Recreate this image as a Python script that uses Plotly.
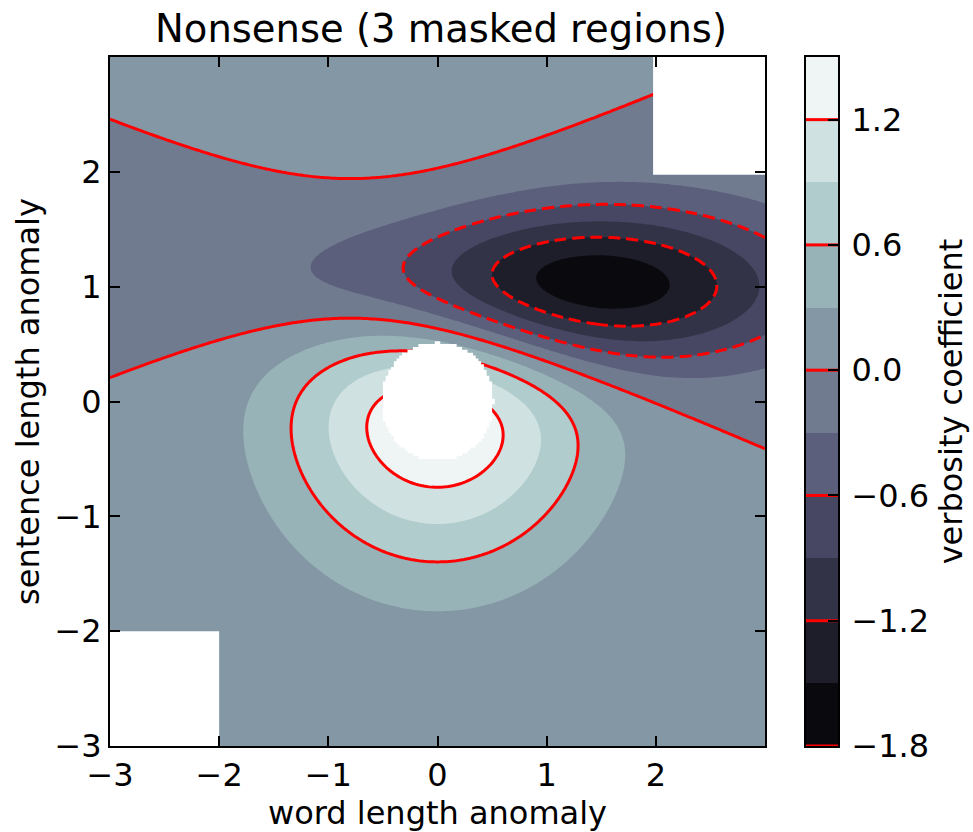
import numpy as np
import plotly.graph_objects as go

# ---------------- data ----------------
grid_start = -3.0
grid_stop = 3.01
grid_step = 0.025

# two Gaussian bumps: a positive one at the origin and a negative one at (1, 1)
bump_amplitude = [10.0, -10.0]
bump_center_x = [0.0, 1.0]
bump_center_y = [0.0, 1.0]
bump_sigma_x = [1.0, 1.5]
bump_sigma_y = [1.0, 0.5]

fill_levels = [-1.8, -1.5, -1.2, -0.9, -0.6, -0.3, 0.0, 0.3, 0.6, 0.9, 1.2, 1.5]
line_levels = [-1.8, -1.2, -0.6, 0.0, 0.6, 1.2]
line_tick_text = ["\u22121.8", "\u22121.2", "\u22120.6", "0.0", "0.6", "1.2"]

axis_ticks = [-3, -2, -1, 0, 1, 2]
axis_tick_text = ["\u22123", "\u22122", "\u22121", "0", "1", "2"]

mask_corner_fraction = 6      # each masked corner covers 1/6 of the grid per side
mask_circle_radius = 0.5

title_text = "Nonsense (3 masked regions)"
x_label = "word length anomaly"
y_label = "sentence length anomaly"
cbar_label = "verbosity coefficient"

# ---------------- field ----------------
x = np.arange(grid_start, grid_stop, grid_step)
y = np.arange(grid_start, grid_stop, grid_step)
X, Y = np.meshgrid(x, y)
Z = np.zeros_like(X)
for a, cx, cy, sx, sy in zip(bump_amplitude, bump_center_x, bump_center_y,
                             bump_sigma_x, bump_sigma_y):
    Z += a * np.exp(-((X - cx) ** 2 / (2 * sx ** 2) + (Y - cy) ** 2 / (2 * sy ** 2))) / (2 * np.pi * sx * sy)

nr, nc = Z.shape
regions = []
m1 = np.zeros_like(Z, dtype=bool)
m1[-nr // mask_corner_fraction:, -nc // mask_corner_fraction:] = True
regions.append(m1)
m2 = np.zeros_like(Z, dtype=bool)
m2[:nr // mask_corner_fraction, :nc // mask_corner_fraction] = True
regions.append(m2)
regions.append(np.sqrt(X ** 2 + Y ** 2) < mask_circle_radius)


def region_polygon(m):
    # quads touching a masked point are left blank (staircase outline)
    q = m[:-1, :-1] | m[1:, :-1] | m[:-1, 1:] | m[1:, 1:]
    rows = []
    for i in range(q.shape[0]):
        js = np.nonzero(q[i])[0]
        if len(js):
            rows.append((y[i], y[i + 1], x[js[0]], x[js[-1] + 1]))
    px, py = [], []
    for yb, yt, xl, xr in rows:
        px += [xr, xr]
        py += [yb, yt]
    for yb, yt, xl, xr in reversed(rows):
        px += [xl, xl]
        py += [yt, yb]
    px.append(px[0])
    py.append(py[0])
    return px, py


# ---------------- bone colormap ----------------
def bone(t):
    r = np.interp(t, [0, 0.746032, 1], [0, 0.652778, 1])
    g = np.interp(t, [0, 0.365079, 0.746032, 1], [0, 0.319444, 0.777778, 1])
    b = np.interp(t, [0, 0.365079, 1], [0, 0.444444, 1])
    return "rgb(%d,%d,%d)" % (round(r * 255), round(g * 255), round(b * 255))

lv = np.array(fill_levels)
mids = (lv[:-1] + lv[1:]) / 2
nb = len(mids)
band_colors = [bone((m - lv[0]) / (lv[-1] - lv[0])) for m in mids]
band_scale = [[i / (nb - 1), c] for i, c in enumerate(band_colors)]
step = fill_levels[1] - fill_levels[0]

fig = go.Figure()

fig.add_trace(go.Contour(
    x=x, y=y, z=Z,
    autocontour=False,
    contours=dict(start=fill_levels[1], end=fill_levels[-2], size=step,
                  coloring="fill", showlines=False),
    colorscale=band_scale, showscale=False, line=dict(width=0, smoothing=0),
    hoverinfo="skip", xaxis="x", yaxis="y",
))

neg = [l for l in line_levels if l < 0]
pos = [l for l in line_levels if l >= 0]
lstep = line_levels[1] - line_levels[0]
fig.add_trace(go.Contour(
    x=x, y=y, z=Z, autocontour=False,
    contours=dict(start=neg[0], end=neg[-1], size=lstep, coloring="none"),
    line=dict(color="red", width=3, dash="12px,6px", smoothing=0),
    showscale=False, hoverinfo="skip",
))
fig.add_trace(go.Contour(
    x=x, y=y, z=Z, autocontour=False,
    contours=dict(start=pos[0], end=pos[-1], size=lstep, coloring="none"),
    line=dict(color="red", width=3, smoothing=0),
    showscale=False, hoverinfo="skip",
))

# masked regions shown blank
for m in regions:
    px, py = region_polygon(m)
    fig.add_trace(go.Scatter(
        x=px, y=py, mode="lines", fill="toself", fillcolor="white",
        line=dict(width=0, color="white"), hoverinfo="skip", showlegend=False,
    ))

# colorbar
fig.add_trace(go.Heatmap(
    x=[0, 1], y=fill_levels, z=[[m] for m in mids],
    zmin=mids[0], zmax=mids[-1], colorscale=band_scale,
    showscale=False, hoverinfo="skip", xaxis="x2", yaxis="y2",
))
cx_, cy_ = [], []
for l in line_levels:
    cx_ += [0, 1, None]
    cy_ += [l, l, None]
fig.add_trace(go.Scatter(
    x=cx_, y=cy_, mode="lines", line=dict(color="red", width=3),
    hoverinfo="skip", showlegend=False, xaxis="x2", yaxis="y2",
))

W, H = 973, 832
ml, mr, mt, mb = 110, 135, 57, 86
pw = W - ml - mr
font = "DejaVu Sans"

common = dict(showgrid=False, zeroline=False, showline=True, linecolor="black",
              linewidth=2, ticks="inside", ticklen=10, tickwidth=2,
              tickcolor="black", tickfont=dict(size=32, color="black", family=font))

fig.update_layout(
    width=W, height=H, autosize=False,
    margin=dict(l=ml, r=mr, t=mt, b=mb, autoexpand=False),
    paper_bgcolor="white", plot_bgcolor="white",
    showlegend=False,
    font=dict(family=font, color="black"),
    title=dict(text=title_text, font=dict(size=38.5, family=font, color="black"),
               x=441 / W, xref="container", xanchor="center",
               y=1 - 29 / H, yref="container", yanchor="middle"),
    xaxis=dict(domain=[0, 655 / pw], range=[-3, 3], tickvals=axis_ticks,
               ticktext=axis_tick_text, mirror="ticks", anchor="y",
               ticklabelstandoff=0, automargin=False,
               title=dict(text=x_label, font=dict(size=32), standoff=5), **common),
    yaxis=dict(domain=[0, 1], range=[-3, 3], tickvals=axis_ticks,
               ticktext=axis_tick_text, mirror="ticks", anchor="x",
               ticklabelstandoff=0, automargin=False,
               title=dict(text=y_label, font=dict(size=32), standoff=5), **common),
    xaxis2=dict(domain=[696 / pw, 728 / pw], range=[0, 1], anchor="y2",
                showgrid=False, zeroline=False, showline=True, mirror=True,
                linecolor="black", linewidth=2, ticks="", showticklabels=False),
    yaxis2=dict(domain=[0, 1], range=[fill_levels[0], fill_levels[-1]], anchor="x2",
                side="right", mirror=True, tickvals=line_levels, ticktext=line_tick_text,
                ticklabelstandoff=5, automargin=False,
                title=dict(text=cbar_label, font=dict(size=32), standoff=11), **common),
)

fig.write_html("out.html", config={"displayModeBar": False},
               post_script="document.body.style.margin='0';document.body.style.overflow='hidden';")
